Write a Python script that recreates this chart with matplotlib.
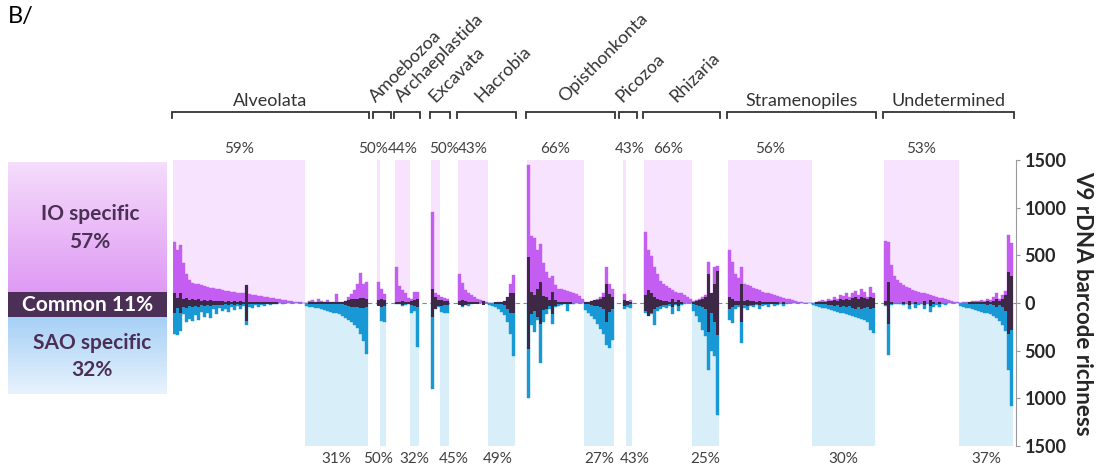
import numpy as np
import matplotlib
matplotlib.use('Agg')
import matplotlib.pyplot as plt
from matplotlib.colors import to_rgb

plt.rcParams['font.family'] = ['Lato', 'DejaVu Sans']

# richness per taxon (IO up, SAO down, common shown both ways)
alv_io = [640, 560, 610, 420, 300, 240, 210, 200, 195, 190, 175, 165, 160, 155, 150, 145, 140, 130, 125, 120,
          115, 110, 105, 100, 190, 95, 85, 80, 75, 70, 65, 60, 55, 50, 45, 40, 35, 30, 25, 20, 15, 10, 8, 5,
          5, 20, 30, 10, 40, 20, 15, 30, 10, 15, 90, 10, 15, 20, 60, 90, 140, 200, 310, 200, 220]
alv_sao = [330, 340, 290, 120, 200, 170, 190, 130, 180, 90, 150, 100, 160, 60, 120, 50, 80, 60, 90, 40,
           70, 30, 60, 30, 230, 40, 50, 25, 40, 20, 30, 15, 20, 10, 15, 5, 10, 5, 5, 0, 5, 0, 0, 0,
           30, 40, 45, 50, 55, 60, 70, 80, 90, 100, 110, 120, 140, 160, 180, 200, 230, 260, 320, 400, 540]
alv_com = [110, 50, 100, 40, 50, 35, 40, 30, 40, 25, 35, 20, 30, 20, 25, 20, 25, 15, 20, 15,
           20, 15, 20, 15, 190, 15, 15, 10, 12, 10, 10, 8, 8, 6, 6, 5, 4, 4, 3, 2, 2, 1, 1, 1,
           5, 10, 10, 10, 15, 10, 10, 15, 10, 10, 15, 10, 15, 20, 30, 40, 40, 45, 50, 50, 40]

amo_io = [220, 150, 90]
amo_sao = [20, 190, 200]
amo_com = [30, 40, 30]

arc_io = [380, 180, 140, 100, 50, 40, 120, 120]
arc_sao = [10, 10, 30, 20, 15, 100, 80, 460]
arc_com = [10, 15, 20, 15, 10, 20, 30, 40]

exc_io = [950, 110, 80, 60, 50, 40]
exc_sao = [900, 60, 40, 90, 110, 110]
exc_com = [150, 60, 30, 30, 20, 20]

hac_io = [300, 210, 140, 100, 80, 60, 40, 30, 20, 15, 5, 5, 5, 10, 10, 20, 60, 200, 290]
hac_sao = [10, 40, 20, 30, 10, 5, 5, 5, 5, 0, 20, 30, 40, 60, 90, 130, 200, 330, 560]
hac_com = [20, 30, 20, 15, 10, 10, 8, 5, 20, 5, 5, 5, 10, 10, 15, 20, 60, 100, 110]

opi_io = [1450, 700, 680, 560, 620, 420, 330, 260, 280, 190, 150, 150, 140, 130, 120, 110, 90, 70, 40,
          10, 15, 20, 30, 40, 60, 100, 380, 200, 150]
opi_sao = [1000, 230, 300, 180, 630, 200, 120, 60, 220, 40, 30, 20, 10, 80, 10, 10, 5, 5, 0,
           70, 100, 140, 170, 220, 270, 330, 440, 470, 390]
opi_com = [480, 120, 80, 150, 220, 70, 60, 30, 120, 30, 15, 15, 10, 15, 10, 5, 5, 5, 0,
           10, 10, 20, 30, 30, 40, 60, 200, 90, 60]

pic_io = [90, 20, 30]
pic_sao = [60, 40, 50]
pic_com = [30, 20, 15]

rhi_io = [740, 560, 490, 380, 300, 230, 200, 180, 160, 140, 120, 110, 100, 80, 60, 40,
          20, 30, 40, 60, 80, 430, 100, 380, 390]
rhi_sao = [100, 140, 120, 230, 80, 60, 40, 50, 30, 120, 20, 80, 20, 10, 5, 0,
           80, 140, 200, 280, 350, 700, 500, 560, 1170]
rhi_com = [80, 140, 100, 60, 40, 30, 20, 20, 15, 40, 10, 30, 10, 5, 5, 0,
           10, 20, 30, 40, 60, 300, 100, 200, 340]

str_io = [560, 430, 300, 260, 380, 200, 190, 180, 160, 150, 140, 120, 110, 100, 90, 80, 70, 65, 55, 45,
          40, 30, 25, 15, 10, 5, 3, 2,
          5, 10, 20, 30, 20, 40, 30, 60, 40, 80, 70, 100, 60, 110, 130, 80, 150, 120, 60, 170, 100]
str_sao = [180, 210, 60, 40, 420, 50, 70, 30, 40, 20, 60, 30, 20, 40, 10, 30, 20, 10, 30, 10,
           5, 5, 5, 0, 0, 0, 0, 0,
           20, 30, 40, 50, 55, 60, 70, 80, 90, 100, 110, 120, 130, 140, 150, 160, 170, 180, 200, 280, 310]
str_com = [60, 40, 20, 20, 200, 20, 30, 20, 20, 15, 20, 10, 10, 15, 10, 10, 10, 5, 10, 5,
           5, 5, 5, 0, 0, 0, 0, 0,
           5, 10, 10, 15, 15, 20, 20, 30, 25, 40, 30, 40, 30, 50, 60, 40, 60, 50, 40, 60, 50]

und_io = [650, 640, 400, 280, 240, 210, 190, 170, 155, 140, 130, 120, 110, 100, 95, 85, 75, 65, 55, 50,
          40, 30, 25, 15, 10,
          5, 10, 10, 15, 20, 20, 25, 30, 20, 40, 30, 60, 100, 40, 80, 130, 710, 630]
und_sao = [30, 550, 20, 10, 10, 10, 20, 10, 60, 10, 50, 20, 10, 60, 10, 90, 40, 20, 40, 10,
           20, 5, 5, 0, 0,
           30, 40, 50, 55, 60, 70, 80, 90, 100, 110, 120, 140, 160, 190, 230, 290, 700, 1080]
und_com = [20, 220, 10, 5, 5, 5, 10, 5, 20, 5, 15, 5, 5, 20, 5, 30, 15, 5, 10, 5,
           5, 3, 2, 0, 0,
           5, 5, 5, 10, 10, 10, 10, 15, 10, 20, 15, 25, 40, 20, 40, 80, 320, 280]

groups = ['Alveolata', 'Amoebozoa', 'Archaeplastida', 'Excavata', 'Hacrobia',
          'Opisthonkonta', 'Picozoa', 'Rhizaria', 'Stramenopiles', 'Undetermined']
n_io = [44, 1, 5, 3, 10, 19, 1, 16, 28, 25]   # number of IO-dominated taxa in each group
pct_io = ['59%', '50%', '44%', '50%', '43%', '66%', '43%', '66%', '56%', '53%']
pct_sao = ['31%', '50%', '32%', '45%', '49%', '27%', '43%', '25%', '30%', '37%']

io_all = [alv_io, amo_io, arc_io, exc_io, hac_io, opi_io, pic_io, rhi_io, str_io, und_io]
sao_all = [alv_sao, amo_sao, arc_sao, exc_sao, hac_sao, opi_sao, pic_sao, rhi_sao, str_sao, und_sao]
com_all = [alv_com, amo_com, arc_com, exc_com, hac_com, opi_com, pic_com, rhi_com, str_com, und_com]

# layout
gaps = [0, 3, 3, 4, 3, 4, 3, 4, 3, 3]
rotated = [False, True, True, True, True, True, True, True, False, False]
top_nudge = [0, -1.7, 0, 2.7, 0, 0, 1.7, 0, 0, 0]
bot_nudge = [0, -1.5, 0, 3, -1.3, 0, 2, 0, 0, 0]

pink_shade = '#f7e3fd'
blue_shade = '#d8eef8'
io_color = '#c45df1'
sao_color = '#1899d6'
com_color = '#3d2846'
txt = '#333333'

W, H = 1105, 469
fig = plt.figure(figsize=(W / 100, H / 100), dpi=100)
ax = fig.add_axes([173 / W, 1 - 446 / H, 843 / W, 286 / H])

x0 = 0
for g in range(len(groups)):
    x0 += gaps[g]
    io = np.array(io_all[g])
    sao = np.array(sao_all[g])
    com = np.array(com_all[g])
    n = len(io)
    ni = n_io[g]
    x = x0 + np.arange(n)

    ax.bar(x0, 1500, width=ni, align='edge', color=pink_shade, lw=0, zorder=0)
    ax.bar(x0 + ni, -1500, width=n - ni, align='edge', color=blue_shade, lw=0, zorder=0)

    ax.bar(x, io, width=1, align='edge', color=io_color, ec=io_color, lw=0.3, zorder=2)
    ax.bar(x, -sao, width=1, align='edge', color=sao_color, ec=sao_color, lw=0.3, zorder=2)
    ax.bar(x + 0.5, 2 * com, bottom=-com, width=0.75, color=com_color, lw=0, zorder=3)

    ax.text(x0 + ni / 2 + top_nudge[g], 1615, pct_io[g], ha='center', va='center',
            fontsize=11, color='#404040', clip_on=False)
    ax.text(x0 + ni + (n - ni) / 2 + bot_nudge[g], -1640, pct_sao[g], ha='center', va='center',
            fontsize=11, color='#404040', clip_on=False)

    # bracket over the group
    bl, br = x0 - 0.3, x0 + n + 0.3
    if n < 5:
        c = x0 + n / 2
        bl, br = c - 3, c + 3
    ax.plot([bl, bl, br, br], [1940, 2003, 2003, 1940], color='#333333', lw=1.3,
            clip_on=False, solid_joinstyle='miter')
    cx = (bl + br) / 2
    if rotated[g]:
        ax.text(cx - 1.7, 2098, groups[g], rotation=45, rotation_mode='anchor',
                ha='left', va='baseline', fontsize=13, color=txt, clip_on=False)
    else:
        ax.text(cx, 2066, groups[g], ha='center', va='baseline', fontsize=13,
                color=txt, clip_on=False)
    x0 += n

ax.axhline(0, color='#888888', ls=(0, (4, 3)), lw=0.8, zorder=1)
ax.set_xlim(0, 281)
ax.set_ylim(-1500, 1500)
for s in ['left', 'top', 'bottom']:
    ax.spines[s].set_visible(False)
ax.spines['right'].set_color('#9a9a9a')
ax.spines['right'].set_linewidth(0.8)
ax.set_xticks([])
ax.yaxis.tick_right()
ticks = [-1500, -1000, -500, 0, 500, 1000, 1500]
ax.set_yticks(ticks)
ax.set_yticklabels([str(abs(t)) for t in ticks], fontsize=13, fontweight='bold', color='#262626')
ax.tick_params(axis='y', length=3, color='#9a9a9a', pad=3)

fig.text(1083 / W, 1 - 303 / H, 'V9 rDNA barcode richness', rotation=270, ha='center', va='center',
         fontsize=16, fontweight='bold', color='#262626')

# left legend panel
lp = fig.add_axes([8 / W, 1 - 394 / H, 159 / W, 232 / H])
lp.axis('off')


def grad(c1, c2, n=100):
    a, b = np.array(to_rgb(c1)), np.array(to_rgb(c2))
    t = np.linspace(0, 1, n)[:, None]
    return (a + (b - a) * t)[:, None, :]


lp.imshow(grad('#f5ddfb', '#df9af4'), extent=(0, 159, 292, 162), aspect='auto', origin='upper')
lp.imshow(grad('#a6d0f6', '#e8f3fd'), extent=(0, 159, 394, 317), aspect='auto', origin='upper')
lp.fill_between([0, 159], 292, 317, color='#4b2f57', lw=0)
lp.set_xlim(0, 159)
lp.set_ylim(394, 162)
lp.text(82, 214, 'IO specific', ha='center', va='center', fontsize=15, fontweight='bold', color='#4b2f55')
lp.text(82, 242, '57%', ha='center', va='center', fontsize=15, fontweight='bold', color='#4b2f55')
lp.text(80, 305, 'Common 11%', ha='center', va='center', fontsize=15, fontweight='bold', color='white')
lp.text(84, 343, 'SAO specific', ha='center', va='center', fontsize=15, fontweight='bold', color='#4b2f55')
lp.text(84, 370, '32%', ha='center', va='center', fontsize=15, fontweight='bold', color='#4b2f55')

fig.text(8 / W, 1 - 16 / H, 'B/', ha='left', va='center', fontsize=17, color='black')

fig.savefig('out.png', dpi=100)
